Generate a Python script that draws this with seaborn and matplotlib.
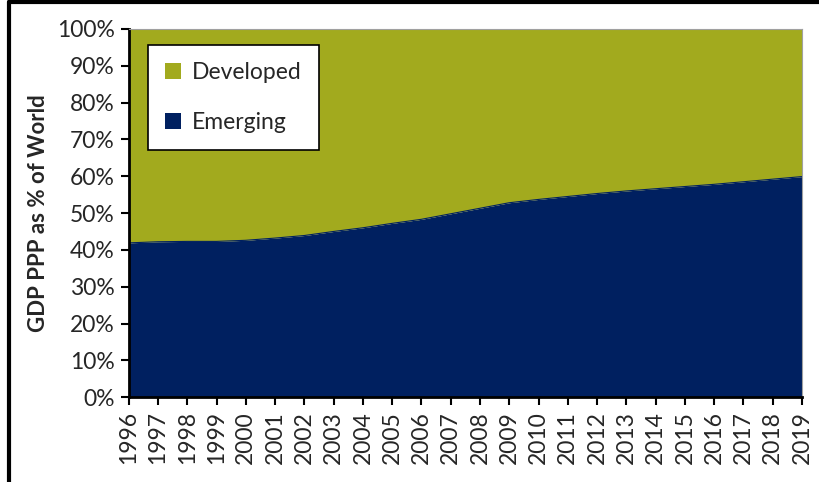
import matplotlib
matplotlib.use("Agg")
import matplotlib.pyplot as plt
import seaborn as sns
import pandas as pd
from matplotlib.patches import Patch
from matplotlib.lines import Line2D

years = list(range(1996, 2020))
emerging = [41.9, 42.2, 42.3, 42.3, 42.6, 43.2, 43.9, 45.0, 46.0, 47.2, 48.3, 49.8,
            51.3, 52.8, 53.7, 54.5, 55.3, 56.0, 56.6, 57.2, 57.8, 58.5, 59.2, 59.9]
developed = [100 - e for e in emerging]

navy = "#002060"
olive = "#A2AA1E"

df = pd.DataFrame({"Year": years, "Emerging": emerging, "Developed": developed})
df["Total"] = df["Emerging"] + df["Developed"]

sns.set_style("ticks")
plt.rcParams["font.family"] = ["Lato", "DejaVu Sans"]

fig = plt.figure(figsize=(8.2, 4.82), dpi=100)
ax = fig.add_axes([0.157, 0.176, 0.821, 0.764])

# stacked area: emerging at bottom, developed on top
ax.fill_between(df["Year"], 0, df["Emerging"], color=navy, lw=0)
ax.fill_between(df["Year"], df["Emerging"], df["Total"], color=olive, lw=0)
sns.lineplot(x="Year", y="Emerging", data=df, ax=ax, color=navy, lw=0.8)

ax.set_xlim(1996, 2019)
ax.set_ylim(0, 100)
ax.set_xticks(years)
ax.set_xticklabels([str(y) for y in years], rotation=90, fontsize=16.5)
ax.set_yticks(range(0, 101, 10))
ax.set_yticklabels([f"{v}%" for v in range(0, 101, 10)], fontsize=16.5)
ax.tick_params(axis="both", direction="out", length=6, width=1.5, color="black", pad=4)
ax.set_xlabel("")
ax.set_ylabel("GDP PPP as % of World", fontsize=16, fontweight="bold", labelpad=6)

ax.spines["left"].set_linewidth(2)
ax.spines["bottom"].set_linewidth(2)
ax.spines["left"].set_color("black")
ax.spines["bottom"].set_color("black")
ax.spines["top"].set_color("#A0A0A0")
ax.spines["right"].set_color("#A0A0A0")
ax.spines["top"].set_linewidth(0.8)
ax.spines["right"].set_linewidth(0.8)

handles = [Patch(facecolor=olive, edgecolor="none", label="Developed"),
           Patch(facecolor=navy, edgecolor="none", label="Emerging")]
leg = ax.legend(handles=handles, loc="upper left", bbox_to_anchor=(0.028, 0.957),
                borderaxespad=0, fontsize=16.5, frameon=True, fancybox=False,
                framealpha=1, edgecolor="black", handlelength=0.7, handleheight=0.7,
                labelspacing=1.25, borderpad=0.75, handletextpad=0.5)
leg.get_frame().set_linewidth(1.2)

# outer frame lines (left and top)
fig.add_artist(Line2D([0.011, 0.011], [0, 0.995], transform=fig.transFigure, color="black", lw=3))
fig.add_artist(Line2D([0.011, 1.0], [0.995, 0.995], transform=fig.transFigure, color="black", lw=3))

plt.savefig("out.png", dpi=100)
